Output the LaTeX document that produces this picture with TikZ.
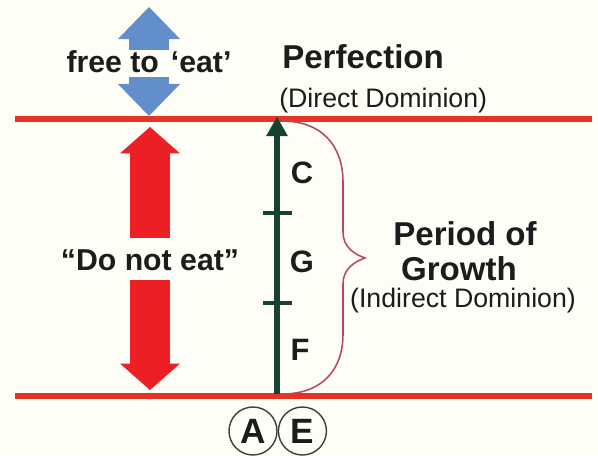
\documentclass[tikz,border=0pt]{standalone}
\usepackage{fontspec}
\setmainfont{Liberation Sans}
\usetikzlibrary{arrows.meta, positioning, calc}
\definecolor{cLine}{RGB}{228,52,38}
\definecolor{cRed}{RGB}{236,32,36}
\definecolor{cBlue}{RGB}{98,142,204}
\definecolor{cGreen}{RGB}{22,66,48}
\definecolor{cBrace}{RGB}{186,72,92}
\definecolor{cPaper}{RGB}{254,253,246}
\definecolor{cInk}{RGB}{28,28,28}
\tikzset{
    boundary/.style   ={draw=cLine, line width=4.3pt},
    bluearrow/.style  ={draw=cBlue, line width=1cm, -{Triangle[width=1.55cm, length=0.8cm, line width=0pt]}},
    redarrow/.style   ={draw=cRed, line width=0.975cm, -{Triangle[width=1.5cm, length=0.66cm, line width=0pt]}},
    growtharrow/.style={draw=cGreen, line width=3.6pt, -{Triangle[width=0.55cm, length=0.48cm, line width=0pt]}},
    stagetick/.style  ={draw=cGreen, line width=3pt},
    bracecurve/.style ={draw=cBrace, line width=1.1pt},
    bigtitle/.style   ={inner sep=0pt, text=cInk, font=\fontsize{23.5}{26}\selectfont\bfseries},
    subtitle/.style   ={inner sep=0pt, text=cInk, font=\fontsize{19}{22}\selectfont},
    eatlabel/.style   ={inner sep=0pt, text=cInk, font=\fontsize{21.5}{24}\selectfont\bfseries},
    stage/.style      ={inner sep=0pt, text=cInk, font=\fontsize{22}{24}\selectfont\bfseries},
    endpoint/.style   ={circle, draw=cInk!85, line width=1pt, minimum size=1.2cm, inner sep=0pt, text=cInk, font=\fontsize{25}{28}\selectfont\bfseries},
}

\begin{document}
\begin{tikzpicture}[x=0.025cm, y=-0.025cm]
    \fill[cPaper] (0,0) rectangle (598,455);
    \useasboundingbox (0,0) rectangle (598,455);

    % the two boundaries
    \coordinate (topL) at (15,119);
    \coordinate (topR) at (592,119);
    \coordinate (botL) at (15,396);
    \coordinate (botR) at (592,396);
    \draw[boundary] (topL) -- (topR);
    \draw[boundary] (botL) -- (botR);

    % left column
    \node[eatlabel, anchor=base] (free) at (149,72) {free to\hspace{0.4em}`eat'};
    \coordinate (sky) at (149,7);
    \draw[bluearrow] (free.north) -- (sky);
    \draw[bluearrow] ([yshift=-3pt]free.south) -- ($(free.south |- topL)+(0,-3)$);

    \node[eatlabel, anchor=base] (dont) at (150,270) {``Do not eat''};
    \draw[redarrow] ([yshift=8pt]dont.north) -- ($(dont.north |- topL)+(0,8)$);
    \draw[redarrow] ([yshift=-7pt]dont.south) -- ($(dont.south |- botL)+(0,-6)$);

    % growth axis
    \coordinate (alpha) at (277,394);
    \coordinate (omega) at (277,117);
    \draw[growtharrow] (alpha) -- (omega);
    \foreach \y in {213,303}
        \draw[stagetick] (263,\y) -- (292,\y);
    \node[stage, anchor=base] (f) at (300,360) {F};
    \node[stage, anchor=base] (g) at (302,272) {G};
    \node[stage, anchor=base] (c) at (302,183) {C};

    % brace
    \draw[bracecurve] (282,121) .. controls (322,121) and (343,146) .. (343,182)
        -- (343,232) .. controls (343,247) and (354,254) .. (365,258)
        .. controls (354,262) and (343,269) .. (343,284)
        -- (343,334) .. controls (343,370) and (322,394) .. (282,394);

    % right labels
    \node[bigtitle, anchor=base west] (perf) at (282,68) {Perfection};
    \node[subtitle, anchor=base west] (direct) at ($(perf.base west)+(-3,39)$) {(Direct Dominion)};
    \node[bigtitle, anchor=base] (period) at (465,245) {Period of};
    \node[bigtitle, anchor=base] (growth) at ($(period.base)+(-6,35)$) {Growth};
    \node[subtitle, anchor=base] (indirect) at ($(growth.base)+(4,27)$) {(Indirect Dominion)};

    % Adam and Eve
    \node[endpoint] (adam) at (253,431) {A};
    \node[endpoint, right=0pt of adam] (eve) {E};
\end{tikzpicture}
\end{document}
